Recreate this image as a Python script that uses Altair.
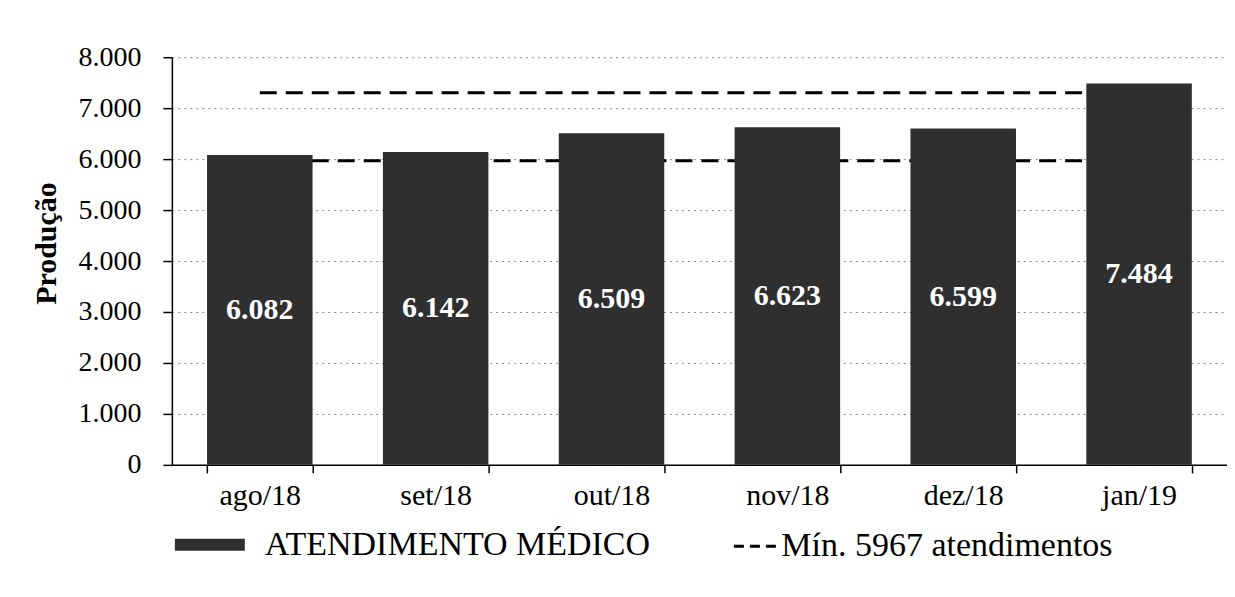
import altair as alt
import pandas as pd

meses = ["ago/18", "set/18", "out/18", "nov/18", "dez/18", "jan/19"]
atendimentos = [6082, 6142, 6509, 6623, 6599, 7484]
minimo = [5967, 5967, 5967, 5967, 5967, 5967]
linha_superior = [7300, 7300, 7300, 7300, 7300, 7300]
y_ticks = [0, 1000, 2000, 3000, 4000, 5000, 6000, 7000, 8000]

serie_barras = "ATENDIMENTO MÉDICO"
serie_min = "Mín. 5967 atendimentos"

df = pd.DataFrame({
    "mes": meses,
    "valor": atendimentos,
    "minimo": minimo,
    "superior": linha_superior,
    "serie": [serie_barras] * len(meses),
    "serie_min": [serie_min] * len(meses),
})

FONT = "Liberation Serif"

x_enc = alt.X(
    "mes:N",
    sort=meses,
    scale=alt.Scale(paddingInner=0.4, paddingOuter=0.2),
    axis=alt.Axis(
        title=None, labelAngle=0, tickBand="extent", tickSize=8,
        labelPadding=8, labelFont=FONT, labelFontSize=30, labelColor="black",
        domainColor="black", domainWidth=1.5, tickColor="black", tickWidth=1.5,
        grid=False,
    ),
)

y_axis = alt.Axis(
    values=y_ticks, title="Produção",
    labelExpr="replace(format(datum.value, ','), ',', '.')",
    labelFont=FONT, labelFontSize=28, labelColor="black", labelPadding=22,
    tickSize=9, tickColor="black", tickWidth=1.5,
    domainColor="black", domainWidth=1.5,
    grid=True, gridColor="#888888", gridDash=[2, 4], gridWidth=1,
    titleFont=FONT, titleFontSize=30, titleFontWeight="bold", titleColor="black",
    titleX=-125, titleY=186, titleAngle=270, titleAlign="center", titleBaseline="middle",
)
y_scale = alt.Scale(domain=[0, 8000])

base = alt.Chart(df)

linha_sup = base.mark_line(color="black", strokeWidth=3, strokeDash=[17, 9]).encode(
    x=x_enc,
    y=alt.Y("superior:Q", scale=y_scale, axis=y_axis),
)

linha_min = base.mark_line(color="black", strokeWidth=3, strokeDash=[17, 9]).encode(
    x=x_enc,
    y=alt.Y("minimo:Q", scale=y_scale, axis=y_axis),
)

# legend-only layer (no rows drawn) for the dashed minimum line
legenda_min = base.transform_filter("false").mark_line(color="black", strokeWidth=3).encode(
    x=x_enc,
    y=alt.Y("minimo:Q", scale=y_scale, axis=y_axis),
    strokeDash=alt.StrokeDash(
        "serie_min:N",
        scale=alt.Scale(domain=[serie_min], range=[[10, 6]]),
        legend=alt.Legend(
            title=None, orient="none", legendX=561, legendY=466, padding=0,
            symbolType="stroke", symbolSize=1936, symbolStrokeColor="black",
            symbolStrokeWidth=3,
            labelFont=FONT, labelFontSize=34,
            labelColor="black", labelOffset=2, labelLimit=0,
        ),
    ),
)

barras = base.mark_bar().encode(
    x=x_enc,
    y=alt.Y("valor:Q", scale=y_scale, axis=y_axis),
    color=alt.Color(
        "serie:N",
        scale=alt.Scale(domain=[serie_barras], range=["#2f2f2f"]),
        legend=alt.Legend(
            title=None, orient="none", legendX=3, legendY=453, padding=0,
            symbolType="M-1,-0.17H1V0.17H-1Z", symbolSize=4900,
            symbolStrokeWidth=0, symbolOpacity=1,
            labelFont=FONT, labelFontSize=34, labelColor="black",
            labelOffset=20, labelLimit=0,
        ),
    ),
)

rotulos = base.transform_calculate(
    rotulo="replace(format(datum.valor, ','), ',', '.')",
    meio="datum.valor / 2",
).mark_text(
    color="white", font=FONT, fontSize=30, fontWeight="bold",
    align="center", baseline="middle",
).encode(
    x=x_enc,
    y=alt.Y("meio:Q", scale=y_scale, axis=y_axis),
    text="rotulo:N",
)

chart = alt.layer(linha_sup, linha_min, legenda_min, barras, rotulos).properties(
    width=1056, height=408,
    autosize=alt.AutoSizeParams(type="none"),
    padding={"left": 164, "top": 49, "right": 0, "bottom": 125},
    background="white",
).configure_view(stroke=None)

chart.save("out.html", embed_options={"renderer": "svg", "actions": False})
